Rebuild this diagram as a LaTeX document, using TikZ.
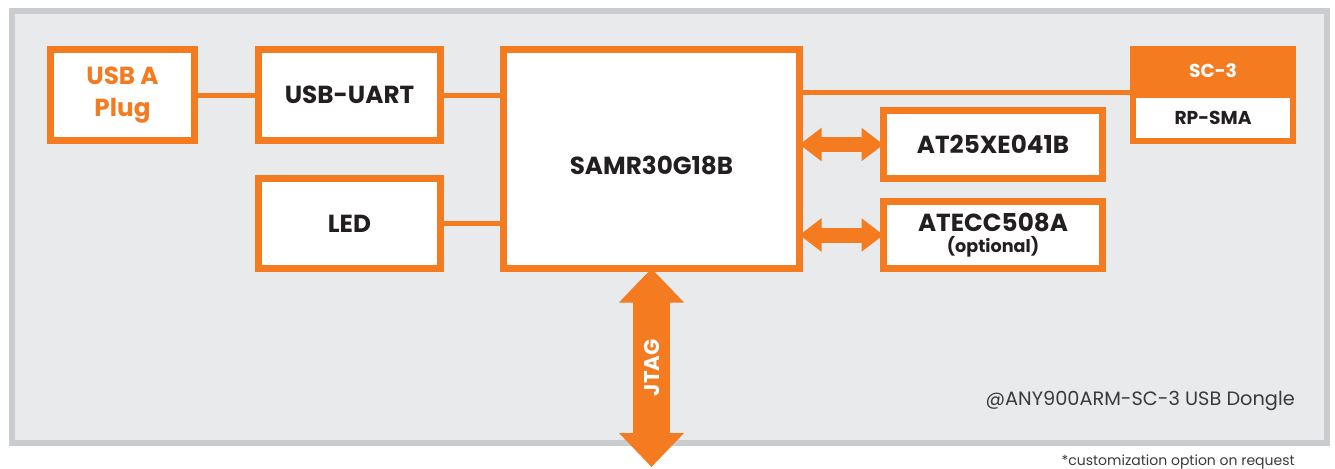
\documentclass[tikz,border=0pt]{standalone}
\usepackage{fontspec}
\setmainfont{Poppins}
\usetikzlibrary{
	arrows.meta
}
\definecolor{dongleorange}{HTML}{F47B20}
\definecolor{boardgray}{HTML}{E9EAEC}
\definecolor{framegray}{HTML}{CBCCCF}
\definecolor{chiptext}{HTML}{231F20}
\definecolor{notetext}{HTML}{3A3A3C}
\tikzset{
	block/.style={
		draw=dongleorange,
		line width=5.25pt,
		fill=white,
		inner sep=0pt,
		outer sep=0pt,
		align=center,
		text=chiptext,
		font=\bfseries\fontsize{18.5}{24}\selectfont
	},
	antenna/.style={
		block,
		line width=4.5pt,
		minimum width=120pt,
		font=\bfseries\fontsize{14}{16}\selectfont
	},
	wire/.style={
		draw=dongleorange,
		line width=3.75pt
	},
	bus/.style={
		draw=dongleorange,
		line width=11.25pt,
		{Triangle[length=16.5pt,width=24pt]}-{Triangle[length=16.5pt,width=24pt]}
	},
	jtagbus/.style={
		draw=dongleorange,
		line width=27.75pt,
		{Triangle[length=25.5pt,width=47.25pt]}-{Triangle[length=25.5pt,width=47.25pt]}
	}
}

\begin{document}
\begin{tikzpicture}[x=0.75pt,y=-0.75pt]
	\useasboundingbox (0,0) rectangle (1335,468);
	% board
	\draw[draw=framegray,fill=boardgray,line width=4.5pt] (12,11) rectangle (1327,443);

	\node[block,minimum width=108pt,minimum height=68.25pt,text=dongleorange]
		(plug) at (122.5,95) {USB A\\Plug};
	\node[block,minimum width=136.5pt,minimum height=68.25pt] (uart) at (349.5,95) {USB-UART};
	\node[block,minimum width=136.5pt,minimum height=67.5pt]  (led)  at (349.5,223.5) {LED};
	\node[block,minimum width=222pt,minimum height=164.25pt,text height=23.5pt,text depth=0pt]
		(samr) at (651.5,159) {SAMR30G18B};
	\node[block,minimum width=164.25pt,minimum height=51pt]   (flash) at (993,144.5) {AT25XE041B};
	\node[block,minimum width=164.25pt,minimum height=50.25pt] (ecc) at (993,235)
		{ATECC508A\\[-8pt]{\fontsize{13.2}{14}\selectfont(optional)}};

	\node[antenna,minimum height=34.5pt] (rpsma) at (1213,118) {RP-SMA};
	\node[antenna,minimum height=32.25pt,fill=dongleorange,text=white] (sc3) at (1213,70.5) {SC-3};

	\coordinate (jtagend) at (651.5,467);

	\draw[wire] (plug) -- (uart);
	\draw[wire] (uart.east) -- (uart.east -| samr.west);
	\draw[wire] (led.east) -- (led.east -| samr.west);
	\draw[wire] (samr.east |- sc3.south west) -- (sc3.south west);
	\draw[bus] (samr.east |- flash.west) -- (flash.west);
	\draw[bus] (samr.east |- ecc.west) -- (ecc.west);
	\draw[jtagbus] (samr.south) -- node[rotate=90,text=white,font=\bfseries\fontsize{16}{18}\selectfont] (jtag) {JTAG} (jtagend);

	\node[anchor=east,inner sep=0pt,text=notetext,font=\fontsize{14.5}{16}\selectfont]
		(model) at (1295,401) {@ANY900ARM-SC-3 USB Dongle};
	\node[anchor=east,inner sep=0pt,text=notetext,font=\fontsize{10.5}{12}\selectfont]
		(note) at (1295,462) {*customization option on request};
\end{tikzpicture}
\end{document}
